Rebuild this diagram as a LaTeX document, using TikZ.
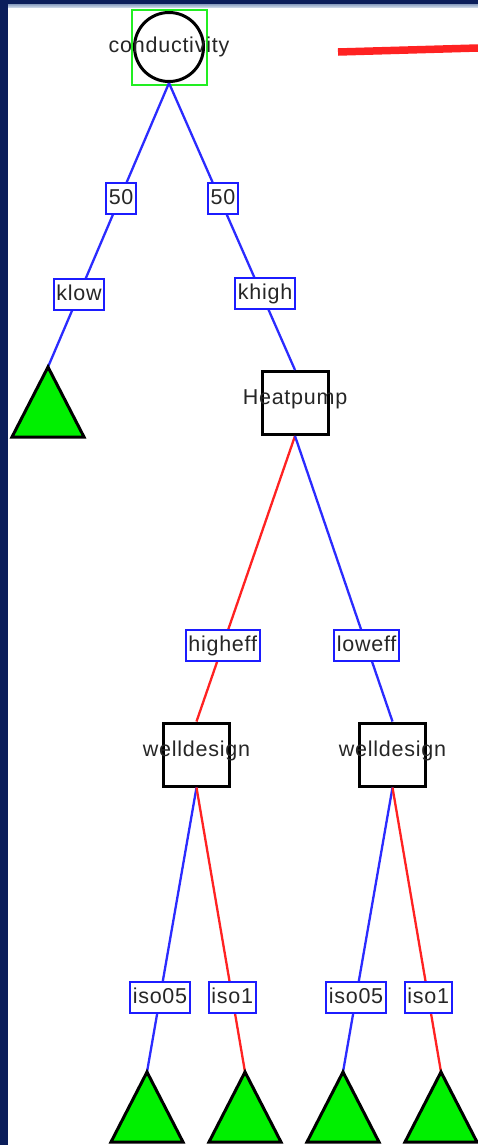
\documentclass[tikz,border=0pt]{standalone}
\usepackage{fontspec}
\setmainfont[LetterSpace=3.5]{Liberation Sans}
\usetikzlibrary{shapes.geometric}

\definecolor{navy}{HTML}{0B1E5B}
\definecolor{stripdark}{HTML}{8A9EC0}
\definecolor{striplight}{HTML}{DCE6F2}
\definecolor{edgeblue}{HTML}{2B2BFF}
\definecolor{edgered}{HTML}{FF2222}
\definecolor{boxblue}{HTML}{1C1CFF}
\definecolor{leafgreen}{HTML}{00F000}
\definecolor{selgreen}{HTML}{22EE22}

% keeps wide names from growing the shape around them
\newcommand{\overhang}[1]{\makebox[0pt]{\raisebox{-1.5bp}[0pt][0pt]{#1}}}

\begin{document}
\begin{tikzpicture}[x=1bp,y=-1bp,
    every node/.style={font=\fontsize{21.5bp}{24bp}\selectfont, text=black!85},
    decision/.style={draw=black, line width=3bp, minimum width=66bp, minimum height=63bp, inner sep=0pt},
    chance/.style={draw=black, circle, line width=3bp, minimum size=69bp, inner sep=0pt},
    selected/.style={draw=selgreen, line width=2bp, minimum size=75bp, inner sep=0pt},
    lbl/.style={draw=boxblue, fill=white, line width=2bp, inner xsep=2.5bp, inner ysep=5.5bp,
                text height=16bp, text depth=4bp},
    bedge/.style={draw=edgeblue, line width=2.3bp},
    redge/.style={draw=edgered, line width=2.3bp},
    leaf/.style={draw=black, fill=leafgreen, line width=3bp}]

    % window frame
    \useasboundingbox (0,0) rectangle (478,1145);
    \fill[navy] (0,0) rectangle (478,1145);
    \shade[top color=stripdark, bottom color=striplight] (8,4) rectangle (478,8);
    \fill[white] (8,8) rectangle (478,1145);

    \draw[edgered, line width=7.5bp] (338,52) -- (478,48);

    % nodes
    \node (sel) [selected] at (169,47) {};
    \node (root) [chance] at (169,47) {\makebox[0pt]{conductivity}};
    \node (hp) [decision] at (295,403) {\overhang{Heatpump}};
    \node (wl) [decision] at (196.5,754.5) {\overhang{welldesign}};
    \node (wr) [decision] at (392.5,754.5) {\overhang{welldesign}};

    \coordinate (t1) at (48,367);
    \coordinate (t2) at (147,1072);
    \coordinate (t3) at (245,1072);
    \coordinate (t4) at (343,1072);
    \coordinate (t5) at (441,1072);

    % branches
    \draw[bedge] (root.south) -- node[lbl, pos=.408, xshift=1.5bp] (p1) {50} node[lbl, pos=.743] (klow) {klow} (t1);
    \draw[bedge] (root.south) -- node[lbl, pos=.404, xshift=3bp] (p2) {50} node[lbl, pos=.735, xshift=3.5bp] (khigh) {khigh} (hp.north);
    \draw[redge] (hp.south) -- node[lbl, pos=.734] (he) {higheff} (wl.north);
    \draw[bedge] (hp.south) -- node[lbl, pos=.734] (le) {loweff} (wr.north);
    \draw[bedge] (wl.south) -- node[lbl, pos=.738] (a1) {iso05} (t2);
    \draw[redge] (wl.south) -- node[lbl, pos=.738] (b1) {iso1} (t3);
    \draw[bedge] (wr.south) -- node[lbl, pos=.738] (a2) {iso05} (t4);
    \draw[redge] (wr.south) -- node[lbl, pos=.738] (b2) {iso1} (t5);

    % end points
    \foreach \t in {t1,t2,t3,t4,t5}
        \draw[leaf] (\t) -- ++(-36,70) -- ++(72,0) -- cycle;
\end{tikzpicture}
\end{document}
